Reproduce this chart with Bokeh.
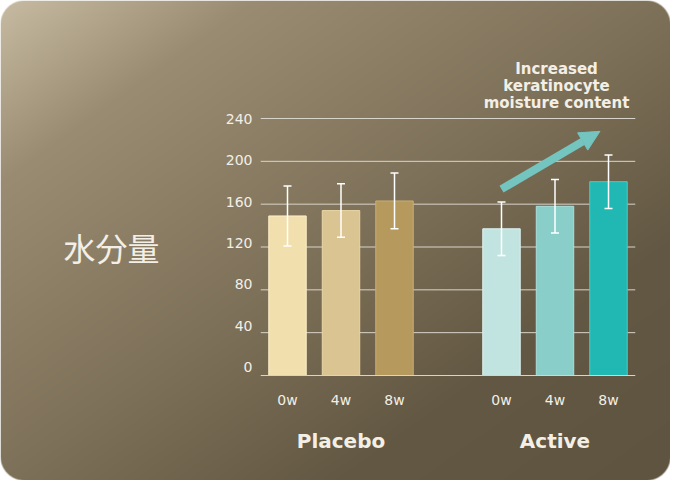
import numpy as np
from bokeh.core.properties import value
from bokeh.embed import file_html
from bokeh.models import Arrow, ColumnDataSource, NormalHead, Range1d, TeeHead, Whisker
from bokeh.plotting import figure
from bokeh.resources import INLINE

# data
weeks = ["0w", "4w", "8w"]
groups = ["Placebo", "Active"]
placebo_mean = [149, 154, 163]
placebo_err = [28, 25, 26]
active_mean = [137, 158, 181]
active_err = [25, 25, 25]
y_ticks = [0, 40, 80, 120, 160, 200, 240]
title_text = "水分量"
note_lines = ["Increased", "keratinocyte", "moisture content"]

placebo_colors = ["#f2dfae", "#dac491", "#b6995d"]
placebo_edges = ["#fbefc8", "#ead7a6", "#c9ae72"]
active_colors = ["#c1e4e1", "#89cec9", "#21b8b3"]
active_edges = ["#def3f1", "#a9e0dc", "#4ccbc5"]

# layout in figure pixels
W, H = 670, 480
SLOT_PX = 53.5          # distance between bar centres
X0_PX = 287             # centre of the first bar
UNIT_PX = 257 / 240     # pixels per y unit
Y0_PX = 375             # y = 0 line, from top

x_start = -X0_PX / SLOT_PX
x_end = (W - X0_PX) / SLOT_PX
y_start = (Y0_PX - H) / UNIT_PX
y_end = Y0_PX / UNIT_PX


def px_x(px):
    return x_start + px / SLOT_PX


def px_y(py):
    return y_end - py / UNIT_PX


p = figure(width=W, height=H, output_backend="svg", toolbar_location=None,
           x_range=Range1d(x_start, x_end), y_range=Range1d(y_start, y_end),
           x_axis_location=None, y_axis_location=None, min_border=0)
p.grid.grid_line_color = None
p.outline_line_color = None
p.background_fill_color = "white"
p.border_fill_color = "white"

# card with diagonal gradient and rounded corners
xs = np.arange(W) + 0.5
ys = np.arange(H) + 0.5
gx, gy = np.meshgrid(xs, ys)
top = H - gy  # row 0 is the bottom of the image
t = (gx / W + top / H) / 2
stops = [0, 0.19, 0.5, 0.75, 1.0]
reds = [199, 154, 126, 99, 95]
greens = [188, 140, 113, 88, 84]
blues = [163, 114, 89, 67, 63]
r = 24
dx = np.maximum(np.maximum(r - gx, gx - (W - r)), 0)
dy = np.maximum(np.maximum(r - top, top - (H - r)), 0)
d = np.sqrt(dx ** 2 + dy ** 2) - r
alpha = np.clip(0.5 - d, 0, 1)
img = np.empty((H, W), dtype=np.uint32)
view = img.view(dtype=np.uint8).reshape((H, W, 4))
view[:, :, 0] = np.interp(t, stops, reds).astype(np.uint8)
view[:, :, 1] = np.interp(t, stops, greens).astype(np.uint8)
view[:, :, 2] = np.interp(t, stops, blues).astype(np.uint8)
view[:, :, 3] = (alpha * 255).astype(np.uint8)
p.image_rgba(image=[img], x=x_start, y=y_start, dw=x_end - x_start, dh=y_end - y_start)

# bar slots: three for placebo, a gap, three for active
slots = [0, 1, 2, 4, 5, 6]
means = placebo_mean + active_mean
errs = placebo_err + active_err
src = ColumnDataSource(dict(
    x=slots,
    top=means,
    upper=[m + e for m, e in zip(means, errs)],
    lower=[m - e for m, e in zip(means, errs)],
    color=placebo_colors + active_colors,
    edge=placebo_edges + active_edges,
    label=weeks + weeks,
))

x_lo = min(slots) - 0.5
x_hi = max(slots) + 0.5
grid_col = "#d9d4ca"
p.segment(x0=x_lo, x1=x_hi, y0=y_ticks[1:], y1=y_ticks[1:], line_color=grid_col, line_width=1)

p.vbar(x="x", top="top", bottom=0, width=0.7, fill_color="color", line_color="edge",
       line_width=1, source=src)
p.segment(x0=x_lo, x1=x_hi, y0=y_ticks[0], y1=y_ticks[0], line_color=grid_col, line_width=1)

p.add_layout(Whisker(base="x", upper="upper", lower="lower", source=src, level="annotation",
                     line_color="white", line_width=1.5,
                     upper_head=TeeHead(size=8, line_color="white", line_width=1.5),
                     lower_head=TeeHead(size=8, line_color="white", line_width=1.5)))

txt = "#f3efe6"
font = value("DejaVu Sans")

# y tick labels sit a touch above their lines towards the bottom
tick_y = [px_y(366.7 - v * 248.4 / 240) for v in y_ticks]
p.text(x=[px_x(252)] * len(y_ticks), y=tick_y, text=[str(v) for v in y_ticks],
       text_align="right", text_baseline="middle", text_font=font,
       text_font_size="14px", text_color=txt)

p.text(x="x", y=px_y(399.5), text="label", source=src, text_align="center",
       text_baseline="middle", text_font=font, text_font_size="14px", text_color=txt)

p.text(x=[slots[1], slots[4]], y=[px_y(440)] * 2, text=groups, text_align="center",
       text_baseline="middle", text_font=font, text_font_style="bold",
       text_font_size="20px", text_color=txt)

p.text(x=[px_x(111)], y=[px_y(246)], text=[title_text], text_align="center",
       text_baseline="middle", text_font=value("Noto Sans CJK JP"),
       text_font_size="32px", text_color=txt)

p.text(x=[px_x(556)] * 3, y=[px_y(68.3), px_y(85.7), px_y(102.3)], text=note_lines,
       text_align="center", text_baseline="alphabetic", text_font=font,
       text_font_style="bold", text_font_size="15px", text_color=txt)

arrow_col = "#74c5c0"
p.add_layout(Arrow(x_start=slots[3], y_start=174, x_end=5.84, y_end=228,
                   line_color=arrow_col, line_width=8, line_cap="butt",
                   end=NormalHead(size=20, fill_color=arrow_col, line_color=arrow_col,
                                  line_width=1)))

open("out.html", "w").write(file_html(p, INLINE))
